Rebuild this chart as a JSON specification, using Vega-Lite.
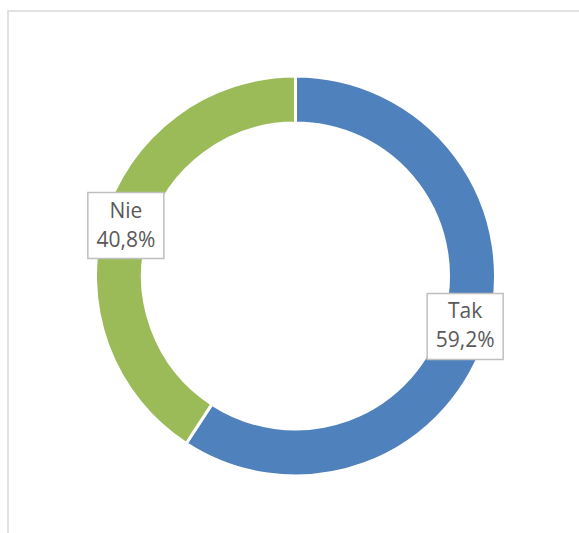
{
  "$schema": "https://vega.github.io/schema/vega-lite/v6.json",
  "autosize": {"type": "none"},
  "padding": {"left": 8, "top": 11, "right": 0, "bottom": 0},
  "width": 575,
  "height": 530,
  "background": "white",
  "view": {"stroke": "#d9d9d9", "strokeWidth": 1.5},
  "data": {
    "values": [
      {"category": "Tak", "value": 59.2},
      {"category": "Nie", "value": 40.8}
    ]
  },
  "transform": [
    {"window": [{"op": "sum", "field": "value", "as": "cum"}], "sort": [{"field": "value", "order": "descending"}], "frame": [null, 0]},
    {"joinaggregate": [{"op": "sum", "field": "value", "as": "total"}]},
    {"calculate": "2 * PI * (datum.cum - datum.value / 2) / datum.total", "as": "mid"},
    {"calculate": "sin(datum.mid)", "as": "lx"},
    {"calculate": "cos(datum.mid)", "as": "ly"},
    {"calculate": "datum.category + '\\n' + replace(format(datum.value, '.1f'), '.', ',') + '%'", "as": "label"}
  ],
  "encoding": {
    "theta": {"field": "value", "type": "quantitative", "stack": true},
    "order": {"field": "value", "sort": "descending"},
    "color": {
      "field": "category",
      "type": "nominal",
      "scale": {"domain": ["Tak", "Nie"], "range": ["#4F81BD", "#9BBB59"]},
      "legend": null
    }
  },
  "layer": [
    {
      "mark": {"type": "arc", "outerRadius": 200, "innerRadius": 153, "stroke": "white", "strokeWidth": 3}
    },
    {
      "mark": {
        "type": "point",
        "shape": "M-1,-0.87L1,-0.87L1,0.87L-1,0.87Z",
        "size": 5776,
        "filled": true,
        "fill": "white",
        "fillOpacity": 1,
        "stroke": "#bfbfbf",
        "strokeWidth": 1.5,
        "opacity": 1
      },
      "encoding": {
        "theta": null,
        "order": null,
        "color": null,
        "x": {"field": "lx", "type": "quantitative", "scale": {"domain": [-1.6243, 1.6243], "nice": false, "zero": false}, "axis": null},
        "y": {"field": "ly", "type": "quantitative", "scale": {"domain": [-1.4972, 1.4972], "nice": false, "zero": false}, "axis": null}
      }
    },
    {
      "mark": {
        "type": "text",
        "radius": 177,
        "font": "Open Sans",
        "fontSize": 21,
        "lineHeight": 29,
        "lineBreak": "\n",
        "align": "center",
        "baseline": "middle",
        "dy": -14,
        "fill": "#595959"
      },
      "encoding": {
        "text": {"field": "label"},
        "color": null
      }
    }
  ],
  "config": {"axis": {"disable": true}}
}
